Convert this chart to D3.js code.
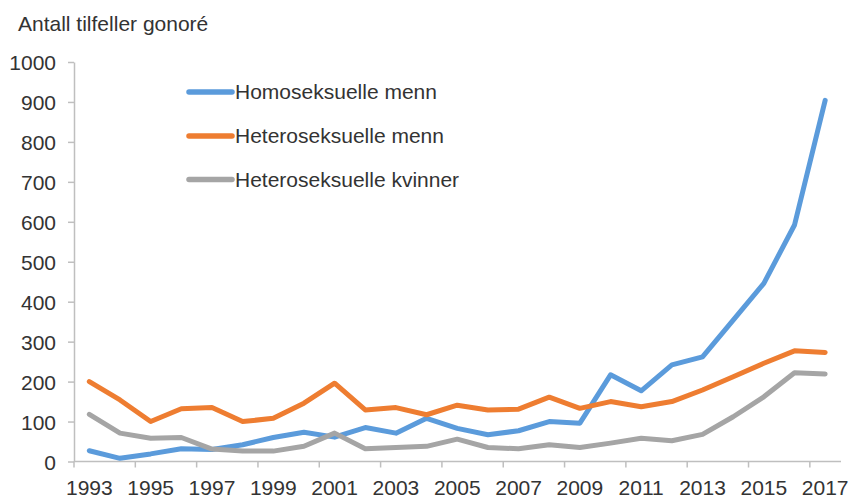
<!DOCTYPE html>
<html>
<head>
<meta charset="utf-8">
<script src="https://cdn.jsdelivr.net/npm/d3@7"></script>
<style>
  body { margin: 0; background: #fff; }
  text { font-family: "Liberation Sans", Arial, sans-serif; fill: #333; }
</style>
</head>
<body>
<svg id="chart" width="853" height="499"></svg>
<script>
// --- data ---
const years = d3.range(1993, 2018);
const homoMenn = [27, 8, 19, 32, 30, 42, 60, 73, 61, 85, 71, 108, 83, 67, 77, 100, 96, 217, 177, 242, 262, 354, 446, 592, 904];
const heteroMenn = [200, 154, 100, 132, 135, 100, 108, 146, 196, 129, 135, 117, 141, 129, 131, 161, 133, 150, 137, 150, 179, 212, 246, 277, 273];
const heteroKvinner = [118, 71, 58, 60, 31, 26, 26, 38, 71, 32, 35, 38, 56, 35, 32, 42, 35, 46, 58, 52, 68, 112, 162, 222, 219];
const seriesNames = ["Homoseksuelle menn", "Heteroseksuelle menn", "Heteroseksuelle kvinner"];
const seriesColors = ["#5b9bdb", "#ee7d31", "#a5a5a5"];
const yTicks = d3.range(0, 1001, 100);

const svg = d3.select("#chart");
const x = d3.scaleBand().domain(years).range([74, 840.5]).padding(0);
const y = d3.scaleLinear().domain([0, 1000]).range([461.5, 62]);
const cx = d => x(d) + x.bandwidth() / 2;

// title
svg.append("text").attr("x", 18).attr("y", 31).style("font-size", "21px")
  .text("Antall tilfeller gonoré");

// y axis
const yAxis = svg.append("g").attr("transform", "translate(74,0)")
  .call(d3.axisLeft(y).tickValues(yTicks).tickFormat(d3.format("d"))
    .tickSize(6).tickSizeOuter(0).tickPadding(12));
yAxis.select(".domain").attr("stroke", "#bfbfbf").attr("stroke-width", 1.5);
yAxis.selectAll(".tick line").attr("stroke", "#bfbfbf").attr("stroke-width", 1.5);
yAxis.selectAll(".tick text").style("font-size", "21px").attr("fill", "#333").attr("dy", "0.36em");

// x axis: line + ticks at band boundaries every 2 years, labels at centers
const xg = svg.append("g");
xg.append("line").attr("x1", 74).attr("x2", 841).attr("y1", y(0)).attr("y2", y(0))
  .attr("stroke", "#bfbfbf").attr("stroke-width", 1.5);
const labelYears = years.filter((d, i) => i % 2 === 0);
xg.selectAll("line.tick").data(labelYears).join("line").attr("class", "tick")
  .attr("x1", d => x(d)).attr("x2", d => x(d))
  .attr("y1", y(0)).attr("y2", y(0) + 6)
  .attr("stroke", "#bfbfbf").attr("stroke-width", 1.5);
xg.selectAll("text").data(labelYears).join("text")
  .attr("x", cx).attr("y", 495).attr("text-anchor", "middle")
  .style("font-size", "21px").text(d => d);

// lines
const allSeries = [homoMenn, heteroMenn, heteroKvinner];
const line = d3.line().x((d, i) => cx(years[i])).y(d => y(d));
svg.selectAll("path.series").data(allSeries).join("path").attr("class", "series")
  .attr("d", line).attr("fill", "none")
  .attr("stroke", (d, i) => seriesColors[i])
  .attr("stroke-width", 5).attr("stroke-linejoin", "round").attr("stroke-linecap", "round");

// legend
const lg = svg.append("g");
const legY = [92, 136, 179.5];
seriesNames.forEach((name, i) => {
  lg.append("line").attr("x1", 189).attr("x2", 232).attr("y1", legY[i]).attr("y2", legY[i])
    .attr("stroke", seriesColors[i]).attr("stroke-width", 5.5).attr("stroke-linecap", "round");
  lg.append("text").attr("x", 235).attr("y", legY[i]).attr("dy", "0.35em")
    .style("font-size", "21px").text(name);
});
</script>
</body>
</html>
